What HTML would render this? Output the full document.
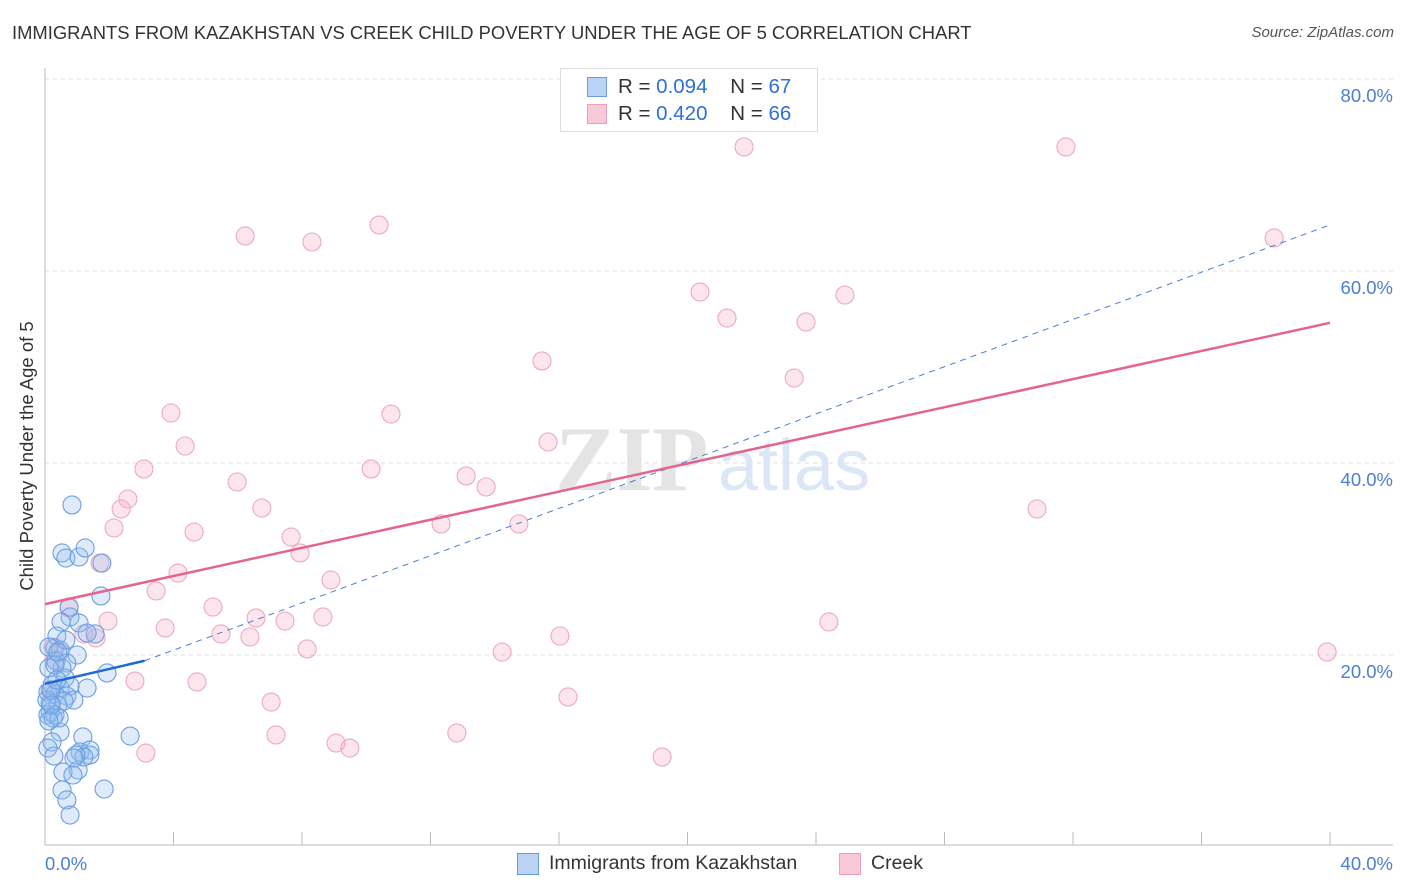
<!DOCTYPE html>
<html><head><meta charset="utf-8"><style>
body{margin:0;background:#fff;font-family:"Liberation Sans",sans-serif;}
#wrap{position:relative;width:1406px;height:892px;overflow:hidden}
.t{position:absolute;white-space:nowrap}
</style></head><body><div id="wrap">
<div class="t" style="left:12px;top:22px;font-size:18.4px;color:#333">IMMIGRANTS FROM KAZAKHSTAN VS CREEK CHILD POVERTY UNDER THE AGE OF 5 CORRELATION CHART</div>
<div class="t" style="right:12px;top:24px;font-size:15px;color:#555;font-style:italic">Source: ZipAtlas.com</div>
<svg id="svg" width="1406" height="892" style="position:absolute;left:0;top:0"></svg>
</div>
<script>
const xTicks=[0,40];
const yTicks=[20,40,60,80];
const blueX=[];const blueY=[];const pinkX=[];const pinkY=[];
const bluePx=[[72,505],[62,553],[66,558],[79,557],[85,548],[102,563],[101,596],[69,607],[70,617],[79,623],[61,622],[95,634],[87,633],[57,636],[55,648],[60,650],[77,655],[49,647],[56,661],[67,663],[62,668],[49,668],[107,673],[65,678],[52,685],[60,688],[70,686],[87,688],[48,692],[55,694],[67,696],[74,700],[50,703],[58,705],[50,712],[55,715],[48,715],[60,732],[83,737],[130,736],[52,742],[48,748],[54,756],[80,752],[90,750],[90,755],[78,770],[63,772],[73,775],[62,790],[104,789],[67,800],[70,815],[55,665],[64,701],[47,700],[53,718],[84,757],[76,755],[59,718],[51,690],[57,680],[66,640],[74,758],[58,652],[51,705],[49,721]];
const pinkPx=[[744,147],[1066,147],[379,225],[245,236],[312,242],[1274,238],[700,292],[845,295],[727,318],[806,322],[542,361],[794,378],[171,413],[391,414],[185,446],[548,442],[144,469],[371,469],[237,482],[466,476],[486,487],[128,499],[121,509],[262,508],[1037,509],[114,528],[441,524],[519,524],[194,532],[291,537],[300,553],[178,573],[331,580],[156,591],[213,607],[69,608],[256,618],[323,617],[285,621],[108,621],[829,622],[165,628],[221,634],[250,637],[84,634],[560,636],[96,638],[307,649],[502,652],[1327,652],[53,647],[55,660],[60,652],[197,682],[135,681],[271,702],[568,697],[276,735],[457,733],[336,743],[350,748],[146,753],[662,757],[100,563],[50,690]];
bluePx.forEach(p=>{blueX.push(+((p[0]-45)/1285*40).toFixed(2));blueY.push(+((847-p[1])/192*20).toFixed(2));});
pinkPx.forEach(p=>{pinkX.push(+((p[0]-45)/1285*40).toFixed(2));pinkY.push(+((847-p[1])/192*20).toFixed(2));});
const blueLine=[0,17.0,3.1,19.4];
const blueDash=[3.1,19.4,40,64.8];
const pinkLine=[0,25.3,40,54.6];
const X=v=>45+v/40*1285, Y=v=>847-v/20*192;
const svg=document.getElementById('svg');const NS='http://www.w3.org/2000/svg';
function mk(t,a,p){const e=document.createElementNS(NS,t);for(const k in a)e.setAttribute(k,a[k]);(p||svg).appendChild(e);return e;}
yTicks.forEach(v=>{const l=mk('line',{x1:45,x2:1393,y1:Y(v),y2:Y(v),stroke:'#ddd','stroke-dasharray':'4,4'});


const t=mk('text',{x:1393,y:Y(v)+23,'text-anchor':'end','font-size':18.5,fill:'#4a7fd6','font-family':'Liberation Sans'});t.textContent=v.toFixed(1)+'%';

});
mk('line',{x1:45,x2:45,y1:68,y2:845,stroke:'#bbb'});
mk('line',{x1:45,x2:1393,y1:845,y2:845,stroke:'#bbb'});
for(let k=0;k<=10;k++){mk('line',{x1:45+128.5*k,x2:45+128.5*k,y1:832,y2:845,stroke:'#bbb'});}
xTicks.forEach((v,i)=>{const t=mk('text',{x:i?1393:45,y:870,'text-anchor':i?'end':'start','font-size':18.5,fill:'#4a7fd6','font-family':'Liberation Sans'});t.textContent=v.toFixed(1)+'%';

});
const yt=mk('text',{x:0,y:0,transform:'translate(33,456) rotate(-90)','text-anchor':'middle','font-size':18.5,fill:'#333','font-family':'Liberation Sans'});yt.textContent='Child Poverty Under the Age of 5';


const wm=mk('text',{x:555,y:490,'font-size':92,fill:'#e4e4e4','font-family':'Liberation Serif','font-weight':'bold'});wm.textContent='ZIP';


const wm2=mk('text',{x:718,y:490,'font-size':72,fill:'#dbe6f6','font-family':'Liberation Sans'});wm2.textContent='atlas';


pinkX.forEach((x,i)=>{const c=mk('circle',{cx:X(x),cy:Y(pinkY[i]),r:9,fill:'rgba(244,170,195,0.3)',stroke:'#efa8c0','stroke-width':1.1});

});
blueX.forEach((x,i)=>{const c=mk('circle',{cx:X(x),cy:Y(blueY[i]),r:9,fill:'rgba(150,188,238,0.3)',stroke:'#6a9fe2','stroke-width':1.1});

});
const bd=mk('line',{x1:X(blueDash[0]),y1:Y(blueDash[1]),x2:X(blueDash[2]),y2:Y(blueDash[3]),stroke:'#4a7fd6','stroke-width':1,'stroke-dasharray':'6,5'});


const pl=mk('line',{x1:X(pinkLine[0]),y1:Y(pinkLine[1]),x2:X(pinkLine[2]),y2:Y(pinkLine[3]),stroke:'#e5648f','stroke-width':2.5});


const bl=mk('line',{x1:X(blueLine[0]),y1:Y(blueLine[1]),x2:X(blueLine[2]),y2:Y(blueLine[3]),stroke:'#1f68d6','stroke-width':2.5});


</script>
<div style="position:absolute;left:560px;top:68px;width:256px;height:62px;border:1px solid #ddd;background:#fff;font-size:20.5px;color:#333">
<div style="position:absolute;left:26px;top:8px;width:18px;height:18px;background:#b9d3f5;border:1px solid #6b9de0"></div>
<div class="t" style="left:57px;top:6px">R = <span style="color:#2f6fd6">0.094</span>&nbsp;&nbsp;&nbsp; N = <span style="color:#2f6fd6">67</span></div>
<div style="position:absolute;left:26px;top:35px;width:18px;height:18px;background:#f8c9d7;border:1px solid #eca0b8"></div>
<div class="t" style="left:57px;top:33px">R = <span style="color:#2f6fd6">0.420</span>&nbsp;&nbsp;&nbsp; N = <span style="color:#2f6fd6">66</span></div>
</div>
<div style="position:absolute;left:517px;top:852px;font-size:19.5px;color:#333">
<div style="position:absolute;left:0;top:1px;width:20px;height:20px;background:#b9d3f5;border:1px solid #6b9de0"></div>
<div class="t" style="left:32px;top:0">Immigrants from Kazakhstan</div>
<div style="position:absolute;left:322px;top:1px;width:20px;height:20px;background:#f8c9d7;border:1px solid #eca0b8"></div>
<div class="t" style="left:354px;top:0">Creek</div>
</div>
</body></html>
